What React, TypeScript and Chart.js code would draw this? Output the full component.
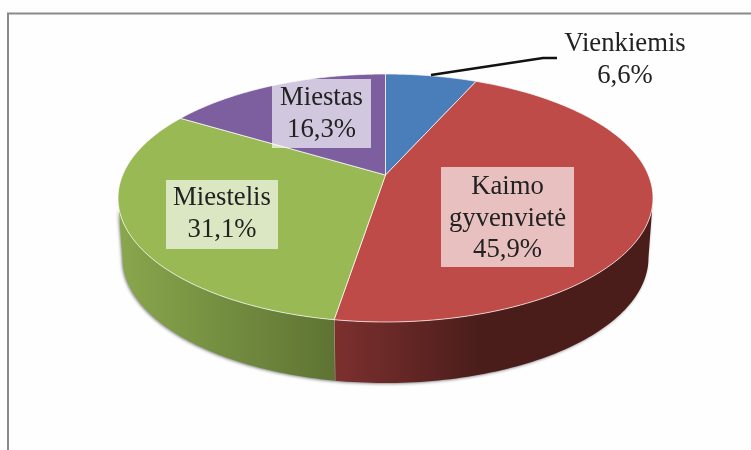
import React, { useEffect, useRef } from "react";
import { Chart, registerables } from "chart.js";

Chart.register(...registerables);

const categories = ["Vienkiemis", "Kaimo gyvenvietė", "Miestelis", "Miestas"];
const labelLines = [["Vienkiemis"], ["Kaimo", "gyvenvietė"], ["Miestelis"], ["Miestas"]];
const values = [6.6, 45.9, 31.1, 16.3];
const colors = ["#4a7ebb", "#be4b48", "#98b954", "#7d5fa0"];
const sideLight = ["#3a6392", "#7c302e", "#88a64c", "#5f4778"];
const sideDark = ["#2c4a6e", "#4a1d1b", "#5e7333", "#46345a"];

const CX = 385.5, CY = 198, RX = 267.5, RY = 124, APEX = 23;
const K = -APEX / RY;
const AX = RX * Math.sqrt(1 - K * K);
const DEPTH = 60, BOTTOM_RX = 0.983, BOTTOM_RY = 1.008;

const project = (a: number) => {
  const u = Math.cos(a), v = Math.sin(a);
  const w = 1 + K * v;
  return { x: (AX * u) / w, y: (RY * v - APEX) / w };
};
const top = (a: number) => {
  const p = project(a);
  return { x: CX + p.x, y: CY + p.y };
};
const bottom = (a: number) => {
  const p = project(a);
  return { x: CX + p.x * BOTTOM_RX, y: CY + DEPTH + p.y * BOTTOM_RY };
};

const boxes = [
  null,
  { x: 441, y: 167, w: 133, h: 100 },
  { x: 166, y: 180, w: 112, h: 69 },
  { x: 272, y: 79, w: 99, h: 69 },
];
const textCenters = [
  { x: 625, y: 44 },
  { x: 507.5, y: 187 },
  { x: 222, y: 198 },
  { x: 321.5, y: 98 },
];
const LINE = 31.5;

const pie3d = {
  id: "pie3d",
  beforeDraw(chart: any) {
    const ctx = chart.ctx;
    ctx.save();
    ctx.fillStyle = "#fefefe";
    ctx.fillRect(0, 0, chart.width, chart.height);
    ctx.strokeStyle = "#8a8a8a";
    ctx.lineWidth = 2;
    ctx.beginPath();
    ctx.moveTo(8, 450);
    ctx.lineTo(8, 13.5);
    ctx.lineTo(751, 13.5);
    ctx.stroke();
    ctx.restore();
  },
  beforeDatasetsDraw(chart: any) {
    const ctx = chart.ctx;
    const arcs = chart.getDatasetMeta(0).data;
    const visFrom = Math.asin(-K), visTo = Math.PI - visFrom;
    ctx.save();
    // side walls
    arcs.forEach((arc: any, i: number) => {
      const from = Math.max(arc.startAngle, visFrom);
      const to = Math.min(arc.endAngle, visTo);
      if (to <= from) return;
      const n = 80;
      ctx.beginPath();
      for (let s = 0; s <= n; s++) {
        const p = top(from + ((to - from) * s) / n);
        s ? ctx.lineTo(p.x, p.y) : ctx.moveTo(p.x, p.y);
      }
      for (let s = n; s >= 0; s--) {
        const p = bottom(from + ((to - from) * s) / n);
        ctx.lineTo(p.x, p.y);
      }
      ctx.closePath();
      const g = i === 1
        ? ctx.createLinearGradient(336, 0, 480, 0)
        : ctx.createLinearGradient(122, 0, 335, 0);
      g.addColorStop(0, sideLight[i]);
      g.addColorStop(1, sideDark[i]);
      ctx.shadowColor = "rgba(0,0,0,0.45)";
      ctx.shadowBlur = 3;
      ctx.shadowOffsetX = -1;
      ctx.shadowOffsetY = 1;
      ctx.fillStyle = g;
      ctx.fill();
      ctx.shadowColor = "transparent";
      ctx.strokeStyle = "rgba(255,255,255,0.55)";
      ctx.lineWidth = 1;
      ctx.beginPath();
      const a = top(to), b = bottom(to);
      ctx.moveTo(a.x, a.y);
      ctx.lineTo(b.x, b.y);
      if (i === 1) ctx.stroke();
    });
    // top face
    arcs.forEach((arc: any, i: number) => {
      const n = 120;
      ctx.beginPath();
      ctx.moveTo(CX, CY - APEX);
      for (let s = 0; s <= n; s++) {
        const p = top(arc.startAngle + ((arc.endAngle - arc.startAngle) * s) / n);
        ctx.lineTo(p.x, p.y);
      }
      ctx.closePath();
      ctx.fillStyle = arc.options.backgroundColor;
      ctx.fill();
      ctx.strokeStyle = arc.options.borderColor;
      ctx.lineWidth = arc.options.borderWidth;
      ctx.stroke();
    });
    ctx.restore();
    return false;
  },
  afterDraw(chart: any) {
    const ctx = chart.ctx;
    const data = chart.data.datasets[0].data;
    ctx.save();
    // leader line
    ctx.strokeStyle = "#111";
    ctx.lineWidth = 2.6;
    ctx.beginPath();
    ctx.moveTo(431, 75);
    ctx.lineTo(543, 58);
    ctx.lineTo(557, 58);
    ctx.stroke();
    ctx.font = '26.7px "Liberation Serif", serif';
    ctx.textAlign = "center";
    ctx.textBaseline = "middle";
    data.forEach((v: number, i: number) => {
      const b = boxes[i];
      if (b) {
        ctx.fillStyle = "rgba(255,255,255,0.65)";
        ctx.fillRect(b.x, b.y, b.w, b.h);
      }
      ctx.fillStyle = "#222";
      const lines = [...labelLines[i], v.toFixed(1).replace(".", ",") + "%"];
      const c = textCenters[i];
      lines.forEach((t, l) => ctx.fillText(t, c.x, c.y + l * LINE));
    });
    ctx.restore();
  },
};

export default function App() {
  const ref = useRef<HTMLCanvasElement>(null);
  useEffect(() => {
    const chart = new Chart(ref.current!, {
      type: "pie",
      data: {
        labels: categories,
        datasets: [
          {
            data: values,
            backgroundColor: colors,
            borderColor: "rgba(255,255,255,0.7)",
            borderWidth: 1,
          },
        ],
      },
      options: {
        responsive: false,
        animation: false,
        plugins: { legend: { display: false }, tooltip: { enabled: false } },
      },
      plugins: [pie3d],
    });
    return () => chart.destroy();
  }, []);
  return (
    <canvas
      ref={ref}
      width={751}
      height={450}
      style={{ position: "absolute", left: 0, top: 0, display: "block", filter: "blur(0.5px)" }}
    />
  );
}
